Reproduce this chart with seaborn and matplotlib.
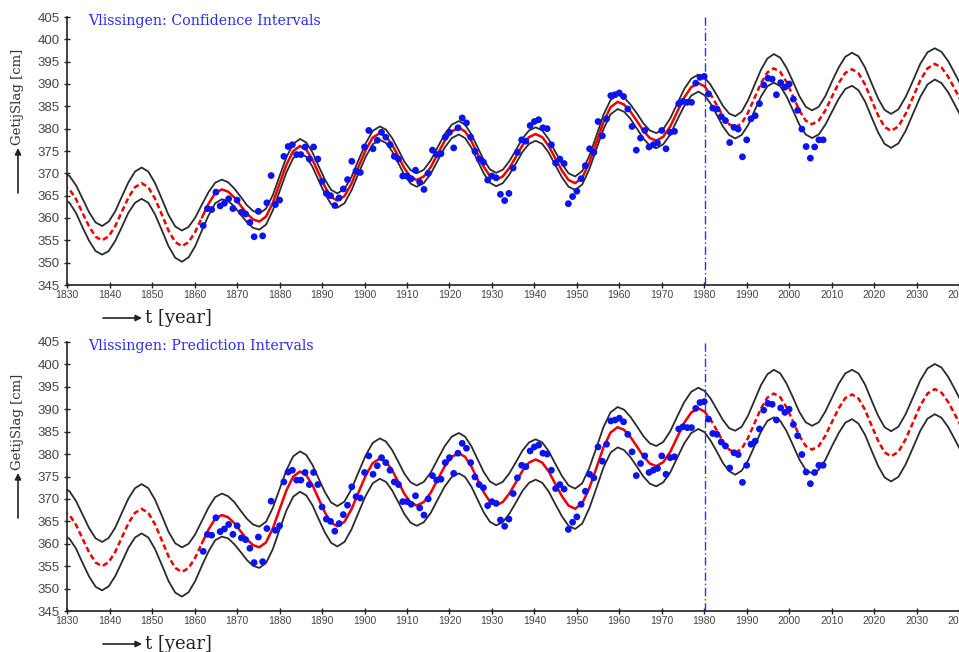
import numpy as np
import pandas as pd
import seaborn as sns
import matplotlib.pyplot as plt

# fitted tide range (one row per half cycle, starting at a peak/trough)
years = [1829.0, 1830.53, 1832.07, 1833.6, 1835.13, 1836.67,
         1838.2, 1839.75, 1841.3, 1842.85, 1844.4, 1845.95,
         1847.5, 1849.08, 1850.67, 1852.25, 1853.83, 1855.42,
         1857.0, 1858.57, 1860.13, 1861.7, 1863.27, 1864.83,
         1866.4, 1867.87, 1869.33, 1870.8, 1872.27, 1873.73,
         1875.2, 1876.8, 1878.4, 1880.0, 1881.6, 1883.2,
         1884.8, 1886.27, 1887.73, 1889.2, 1890.67, 1892.13,
         1893.6, 1895.27, 1896.93, 1898.6, 1900.27, 1901.93,
         1903.6, 1905.05, 1906.5, 1907.95, 1909.4, 1910.85,
         1912.3, 1913.95, 1915.6, 1917.25, 1918.9, 1920.55,
         1922.2, 1923.67, 1925.13, 1926.6, 1928.07, 1929.53,
         1931.0, 1932.55, 1934.1, 1935.65, 1937.2, 1938.75,
         1940.3, 1941.85, 1943.4, 1944.95, 1946.5, 1948.05,
         1949.6, 1951.27, 1952.93, 1954.6, 1956.27, 1957.93,
         1959.6, 1961.12, 1962.63, 1964.15, 1965.67, 1967.18,
         1968.7, 1970.35, 1972.0, 1973.65, 1975.3, 1976.95,
         1978.6, 1980.05, 1981.5, 1982.95, 1984.4, 1985.85,
         1987.3, 1988.82, 1990.33, 1991.85, 1993.37, 1994.88,
         1996.4, 1997.9, 1999.4, 2000.9, 2002.4, 2003.9,
         2005.4, 2006.97, 2008.53, 2010.1, 2011.67, 2013.23,
         2014.8, 2016.33, 2017.87, 2019.4, 2020.93, 2022.47,
         2024.0, 2025.72, 2027.43, 2029.15, 2030.87, 2032.58,
         2034.3, 2035.88, 2037.47, 2039.05, 2040.63]
fit = [367.2, 366.4, 364.2, 361.1, 358.1, 355.8,
       355.0, 355.9, 358.2, 361.4, 364.6, 366.9,
       367.8, 366.9, 364.3, 360.8, 357.2, 354.6,
       353.7, 354.6, 356.9, 360.1, 363.2, 365.6,
       366.4, 365.9, 364.6, 362.8, 361.0, 359.7,
       359.2, 360.3, 363.4, 367.7, 371.9, 375.0,
       376.1, 375.3, 373.1, 370.0, 367.0, 364.7,
       363.9, 364.9, 367.7, 371.5, 375.2, 378.0,
       379.0, 378.3, 376.4, 373.8, 371.1, 369.2,
       368.5, 369.3, 371.4, 374.4, 377.3, 379.4,
       380.2, 379.4, 377.3, 374.4, 371.5, 369.4,
       368.6, 369.3, 371.2, 373.7, 376.3, 378.1,
       378.8, 378.1, 376.1, 373.3, 370.6, 368.5,
       367.8, 369.0, 372.4, 376.9, 381.5, 384.8,
       386.0, 385.4, 383.8, 381.7, 379.5, 377.9,
       377.3, 378.2, 380.5, 383.8, 387.0, 389.3,
       390.2, 389.5, 387.7, 385.3, 382.8, 381.0,
       380.3, 381.2, 383.6, 386.9, 390.2, 392.6,
       393.5, 392.7, 390.4, 387.3, 384.1, 381.8,
       381.0, 381.8, 384.1, 387.2, 390.2, 392.5,
       393.3, 392.4, 389.9, 386.4, 383.0, 380.4,
       379.5, 380.5, 383.3, 387.0, 390.8, 393.5,
       394.5, 393.7, 391.6, 388.8, 385.9]
# half widths of the confidence band (top) and prediction band (bottom)
ci_half = [3.0, 3.0, 3.1, 3.2, 3.2, 3.2,
           3.2, 3.3, 3.3, 3.4, 3.4, 3.5,
           3.5, 3.5, 3.5, 3.5, 3.5, 3.5,
           3.5, 3.4, 3.2, 2.9, 2.6, 2.3,
           2.2, 2.1, 2.0, 2.0, 1.9, 1.9,
           1.8, 1.8, 1.7, 1.7, 1.7, 1.6,
           1.6, 1.6, 1.6, 1.6, 1.6, 1.6,
           1.6, 1.6, 1.5, 1.5, 1.5, 1.5,
           1.5, 1.5, 1.5, 1.5, 1.5, 1.5,
           1.5, 1.5, 1.5, 1.5, 1.5, 1.5,
           1.5, 1.5, 1.5, 1.5, 1.5, 1.5,
           1.5, 1.5, 1.5, 1.5, 1.5, 1.5,
           1.5, 1.5, 1.5, 1.5, 1.5, 1.5,
           1.5, 1.5, 1.5, 1.5, 1.6, 1.6,
           1.6, 1.6, 1.6, 1.7, 1.7, 1.7,
           1.7, 1.7, 1.8, 1.8, 1.9, 1.9,
           1.9, 2.0, 2.1, 2.2, 2.3, 2.4,
           2.5, 2.6, 2.8, 2.9, 3.0, 3.1,
           3.2, 3.2, 3.2, 3.2, 3.2, 3.1,
           3.1, 3.1, 3.2, 3.4, 3.5, 3.6,
           3.7, 3.8, 3.8, 3.8, 3.8, 3.8,
           3.8, 3.8, 3.8, 3.7, 3.7, 3.6,
           3.5, 3.5, 3.5, 3.5, 3.5]
pi_half = [5.3, 5.3, 5.3, 5.4, 5.4, 5.4,
           5.4, 5.4, 5.4, 5.5, 5.5, 5.5,
           5.5, 5.5, 5.5, 5.5, 5.5, 5.5,
           5.5, 5.4, 5.2, 5.0, 4.9, 4.8,
           4.8, 4.7, 4.7, 4.6, 4.6, 4.6,
           4.6, 4.6, 4.6, 4.5, 4.5, 4.5,
           4.5, 4.5, 4.5, 4.5, 4.5, 4.5,
           4.5, 4.5, 4.5, 4.5, 4.5, 4.5,
           4.5, 4.5, 4.5, 4.5, 4.5, 4.5,
           4.5, 4.5, 4.5, 4.5, 4.5, 4.5,
           4.5, 4.5, 4.5, 4.5, 4.5, 4.5,
           4.5, 4.5, 4.5, 4.5, 4.5, 4.5,
           4.5, 4.5, 4.5, 4.5, 4.5, 4.5,
           4.5, 4.5, 4.5, 4.5, 4.5, 4.5,
           4.5, 4.5, 4.5, 4.5, 4.5, 4.5,
           4.5, 4.5, 4.6, 4.6, 4.6, 4.6,
           4.6, 4.6, 4.7, 4.7, 4.8, 4.8,
           4.9, 4.9, 5.0, 5.1, 5.2, 5.2,
           5.3, 5.3, 5.3, 5.3, 5.3, 5.3,
           5.3, 5.3, 5.4, 5.4, 5.5, 5.5,
           5.5, 5.6, 5.6, 5.6, 5.6, 5.6,
           5.6, 5.6, 5.6, 5.6, 5.6, 5.6,
           5.6, 5.6, 5.6, 5.6, 5.6]

# yearly observations
obs_years = list(range(1862, 2009))
obs_level = [358.3, 362.1, 361.9, 365.8, 362.7, 363.3, 364.3, 362.1, 364.0, 361.3,
             360.9, 359.0, 355.8, 361.5, 356.0, 363.4, 369.5, 363.0, 364.0, 373.8,
             376.0, 376.4, 374.2, 374.2, 375.9, 373.2, 375.9, 373.2, 368.2, 365.5,
             365.0, 362.8, 364.5, 366.5, 368.6, 372.7, 370.5, 370.2, 375.9, 379.6,
             375.5, 377.4, 379.2, 378.1, 376.4, 373.8, 373.2, 369.4, 369.4, 368.8,
             370.7, 368.0, 366.4, 370.0, 375.2, 374.2, 374.4, 378.1, 379.2, 375.7,
             380.2, 382.4, 381.3, 378.1, 374.9, 373.2, 372.5, 368.5, 369.4, 369.0,
             365.3, 363.9, 365.5, 371.2, 374.7, 377.5, 377.2, 380.7, 381.6, 382.0,
             380.2, 380.0, 376.4, 372.3, 373.2, 372.2, 363.2, 364.8, 366.0, 368.8,
             371.7, 375.5, 374.7, 381.6, 378.4, 382.2, 387.4, 387.6, 388.0, 387.2,
             384.4, 380.5, 375.2, 377.9, 379.6, 375.9, 376.4, 376.8, 379.6, 375.5,
             379.2, 379.4, 385.6, 386.1, 385.9, 385.9, 390.2, 391.5, 391.7, 387.8,
             384.6, 384.4, 382.7, 381.8, 376.9, 380.3, 379.9, 373.7, 377.5, 382.2,
             382.9, 385.6, 389.8, 391.3, 391.1, 387.6, 390.3, 389.3, 390.0, 386.6,
             384.1, 379.9, 376.0, 373.4, 375.9, 377.5, 377.5]

fit_start, fit_end = 1861.7, 1980.05
split_year = 1980.2
titles = ["Vlissingen: Confidence Intervals", "Vlissingen: Prediction Intervals"]

curve = pd.DataFrame({"year": years, "fit": fit, "ci": ci_half, "pi": pi_half})
obs = pd.DataFrame({"year": obs_years, "level": obs_level})

sns.set_style("ticks")
plt.rcParams["font.family"] = ["Liberation Sans", "DejaVu Sans"]

W, H = 959, 652
fig = plt.figure(figsize=(W / 100, H / 100), dpi=100)
serif = ["DejaVu Serif", "DejaVu Sans"]


def px(x, y):
    return (x / W, 1 - y / H)


arrow = dict(arrowstyle="-|>", color="#222222", lw=1.2, mutation_scale=9,
             shrinkA=0, shrinkB=0)

panels = [(17, 285, "ci"), (342, 611, "pi")]
for i, (top, bottom, band) in enumerate(panels):
    ax = fig.add_axes([67.3 / W, 1 - bottom / H, 1 - 67.3 / W, (bottom - top) / H])
    up = curve["fit"] + curve[band]
    lo = curve["fit"] - curve[band]
    sns.lineplot(x=curve["year"], y=up, color="#2b2b2b", lw=1.3, ax=ax)
    sns.lineplot(x=curve["year"], y=lo, color="#2b2b2b", lw=1.3, ax=ax)

    inside = curve[(curve["year"] >= fit_start) & (curve["year"] <= fit_end)]
    before = curve[curve["year"] <= fit_start]
    after = curve[curve["year"] >= fit_end]
    sns.lineplot(data=inside, x="year", y="fit", color="#ee0000", lw=1.8, ax=ax)
    for part in (before, after):
        sns.lineplot(data=part, x="year", y="fit", color="#ee0000", lw=1.8,
                     ax=ax, linestyle=(0, (2.2, 1.3)))

    sns.scatterplot(data=obs, x="year", y="level", color="#0a14f0", s=24,
                    edgecolor="none", ax=ax, zorder=4)
    ax.axvline(split_year, color="#3030ff", lw=1.0, ls=(0, (6, 2, 1, 2)), zorder=3)

    ax.set_xlim(1830, 2040)
    ax.set_ylim(345, 405)
    ax.set_xticks(range(1830, 2041, 10))
    ax.set_yticks(range(345, 406, 5))
    ax.set_xlabel("")
    ax.set_ylabel("")
    sns.despine(ax=ax)
    for s in ("left", "bottom"):
        ax.spines[s].set_color("#222222")
        ax.spines[s].set_linewidth(1.2)
    ax.tick_params(axis="both", direction="inout", length=5, width=1,
                   color="#222222", labelcolor="#444444")
    ax.tick_params(axis="x", labelsize=7.5, pad=1)
    ax.tick_params(axis="y", labelsize=9.5, pad=3)

    ax.text((88 - 67.3) / (W - 67.3), 1 - 4 / (bottom - top), titles[i],
            transform=ax.transAxes, color="#2b2bff", fontsize=10.2,
            family=serif, va="center", ha="left")

    # axis labels with arrows
    xl_y = bottom + 33
    ax.annotate("", xy=px(142, xl_y), xytext=px(103, xl_y), xycoords="figure fraction",
                textcoords="figure fraction", arrowprops=arrow, annotation_clip=False)
    fig.text(*px(145, xl_y), "t [year]", family=serif, fontsize=13,
             color="#222222", va="center", ha="left")

    yl_b = top + 176
    ax.annotate("", xy=px(18, yl_b - 45), xytext=px(18, yl_b), xycoords="figure fraction",
                textcoords="figure fraction", arrowprops=arrow, annotation_clip=False)
    fig.text(*px(18, yl_b - 48), "GetijSlag [cm]", family=serif, fontsize=9.5,
             color="#333333", rotation=90, va="bottom", ha="center")

fig.savefig("out.png", dpi=100)
